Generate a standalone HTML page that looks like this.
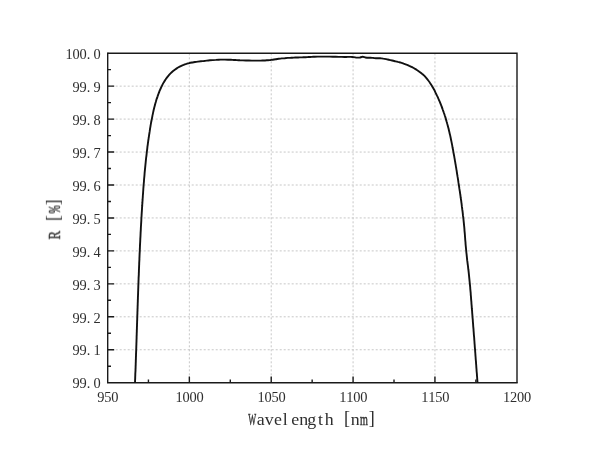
<!DOCTYPE html>
<html><head><meta charset="utf-8"><title>R vs Wavelength</title>
<style>
html,body{margin:0;padding:0;background:#fff;}
body{width:600px;height:459px;overflow:hidden;font-family:"Liberation Serif",serif;}
svg{display:block;}
</style></head><body>
<svg width="600" height="459" viewBox="0 0 600 459">
<rect width="600" height="459" fill="#fff"/>
<path d="M189.36 53.30 V382.80 M271.22 53.30 V382.80 M353.08 53.30 V382.80 M434.94 53.30 V382.80 M107.70 349.75 H517.00 M107.70 316.80 H517.00 M107.70 283.85 H517.00 M107.70 250.90 H517.00 M107.70 217.95 H517.00 M107.70 185.00 H517.00 M107.70 152.05 H517.00 M107.70 119.10 H517.00 M107.70 86.15 H517.00" stroke="#c4c4c4" stroke-width="0.95" stroke-dasharray="2 2" fill="none"/>
<path d="M148.43 382.80 v-3.20 M189.36 382.80 v-6.30 M230.29 382.80 v-3.20 M271.22 382.80 v-6.30 M312.15 382.80 v-3.20 M353.08 382.80 v-6.30 M394.01 382.80 v-3.20 M434.94 382.80 v-6.30 M475.87 382.80 v-3.20 M107.70 366.23 h3.30 M107.70 349.75 h6.50 M107.70 333.27 h3.30 M107.70 316.80 h6.50 M107.70 300.32 h3.30 M107.70 283.85 h6.50 M107.70 267.38 h3.30 M107.70 250.90 h6.50 M107.70 234.42 h3.30 M107.70 217.95 h6.50 M107.70 201.48 h3.30 M107.70 185.00 h6.50 M107.70 168.52 h3.30 M107.70 152.05 h6.50 M107.70 135.58 h3.30 M107.70 119.10 h6.50 M107.70 102.63 h3.30 M107.70 86.15 h6.50 M107.70 69.67 h3.30" stroke="#1a1a1a" stroke-width="1.4" fill="none"/>
<path d="M107.70 53.30 H517.00 V382.80" stroke="#1a1a1a" stroke-width="1.4" fill="none"/>
<path d="M107.70 53.30 V382.80 H517.00" stroke="#1a1a1a" stroke-width="1.4" fill="none" stroke-linecap="square"/>
<path d="M135.00 382.80C135.0 382.3 135.1 380.8 135.1 379.8C135.2 378.8 135.2 377.8 135.2 376.8C135.3 375.8 135.3 374.8 135.3 373.8C135.4 372.8 135.4 371.8 135.5 370.8C135.5 369.8 135.5 368.8 135.6 367.8C135.6 366.8 135.6 365.8 135.7 364.8C135.7 363.8 135.7 362.8 135.8 361.8C135.8 360.8 135.8 359.8 135.9 358.8C135.9 357.8 135.9 356.8 136.0 355.8C136.0 354.8 136.0 353.9 136.1 352.9C136.1 351.9 136.2 350.9 136.2 349.9C136.2 348.9 136.3 347.9 136.3 346.9C136.3 345.9 136.4 344.9 136.4 343.9C136.4 342.9 136.5 341.9 136.5 340.9C136.5 339.9 136.6 338.9 136.6 337.9C136.6 336.9 136.6 335.9 136.7 334.9C136.7 333.9 136.7 332.9 136.8 331.9C136.8 330.9 136.8 329.9 136.9 328.9C136.9 327.9 136.9 326.9 137.0 325.9C137.0 324.9 137.0 323.9 137.1 322.9C137.1 321.9 137.1 320.9 137.2 319.9C137.2 318.9 137.2 317.9 137.3 316.9C137.3 315.9 137.3 314.9 137.4 313.9C137.4 312.9 137.4 311.9 137.5 310.9C137.5 309.9 137.5 308.9 137.6 307.9C137.6 306.9 137.6 305.9 137.7 304.9C137.7 303.9 137.7 302.9 137.8 301.9C137.8 300.9 137.8 299.9 137.9 298.9C137.9 297.9 137.9 296.9 138.0 295.9C138.0 294.9 138.1 293.9 138.1 292.9C138.1 291.9 138.2 290.9 138.2 289.9C138.2 288.9 138.3 287.9 138.3 286.9C138.3 285.9 138.4 284.9 138.4 283.9C138.5 282.9 138.5 281.9 138.5 280.9C138.6 279.9 138.6 278.9 138.6 277.9C138.7 276.9 138.7 275.9 138.8 274.9C138.8 273.9 138.8 272.9 138.9 271.9C138.9 270.9 138.9 269.9 139.0 268.9C139.0 267.9 139.1 266.9 139.1 265.9C139.2 264.9 139.2 263.9 139.2 262.9C139.3 261.9 139.3 260.9 139.4 259.9C139.4 258.9 139.4 257.9 139.5 256.9C139.5 255.9 139.6 254.9 139.6 253.9C139.7 252.9 139.7 251.9 139.8 250.9C139.8 249.9 139.8 248.9 139.9 247.9C139.9 246.9 140.0 245.9 140.0 244.9C140.1 243.9 140.1 242.9 140.2 241.9C140.2 240.9 140.3 239.9 140.3 238.9C140.4 237.9 140.4 236.9 140.5 235.9C140.5 234.9 140.6 233.9 140.6 232.9C140.7 231.9 140.7 230.9 140.8 229.9C140.8 228.9 140.9 227.9 140.9 226.9C141.0 225.9 141.1 224.9 141.1 223.9C141.2 222.9 141.2 221.9 141.3 220.9C141.3 219.9 141.4 218.9 141.4 217.9C141.5 216.9 141.6 215.9 141.6 214.9C141.7 213.9 141.7 212.9 141.8 211.9C141.9 210.9 141.9 209.9 142.0 208.9C142.0 207.9 142.1 206.9 142.2 205.9C142.2 204.9 142.3 203.9 142.4 202.9C142.4 201.9 142.5 200.9 142.6 199.9C142.6 199.0 142.7 198.0 142.8 197.0C142.8 196.0 142.9 195.0 143.0 194.0C143.1 193.0 143.1 192.0 143.2 191.0C143.3 190.0 143.3 189.0 143.4 188.0C143.5 187.0 143.6 186.0 143.6 185.0C143.7 184.0 143.8 183.0 143.9 182.0C144.0 181.0 144.0 180.0 144.1 179.0C144.2 178.0 144.3 177.0 144.4 176.0C144.5 175.1 144.6 174.1 144.6 173.1C144.7 172.1 144.8 171.1 144.9 170.1C145.0 169.1 145.1 168.1 145.2 167.1C145.3 166.1 145.4 165.1 145.5 164.1C145.6 163.1 145.7 162.1 145.8 161.1C145.9 160.1 146.0 159.1 146.1 158.2C146.2 157.2 146.4 156.2 146.5 155.2C146.6 154.2 146.7 153.2 146.8 152.2C146.9 151.2 147.1 150.2 147.2 149.2C147.3 148.2 147.4 147.2 147.5 146.2C147.7 145.3 147.8 144.3 147.9 143.3C148.1 142.3 148.2 141.3 148.3 140.3C148.5 139.3 148.6 138.3 148.8 137.3C148.9 136.3 149.1 135.3 149.2 134.3C149.4 133.4 149.5 132.4 149.7 131.4C149.8 130.4 150.0 129.4 150.1 128.4C150.3 127.4 150.5 126.4 150.6 125.4C150.8 124.5 151.0 123.5 151.1 122.5C151.3 121.5 151.5 120.5 151.7 119.5C151.9 118.5 152.1 117.5 152.3 116.6C152.4 115.6 152.7 114.6 152.9 113.6C153.1 112.6 153.3 111.7 153.5 110.7C153.7 109.7 154.0 108.7 154.2 107.8C154.5 106.8 154.7 105.8 155.0 104.9C155.2 103.9 155.5 102.9 155.8 102.0C156.1 101.0 156.3 100.1 156.6 99.1C157.0 98.2 157.3 97.2 157.6 96.3C157.9 95.3 158.3 94.4 158.6 93.5C159.0 92.6 159.3 91.6 159.7 90.7C160.1 89.8 160.5 88.9 160.9 88.0C161.3 87.1 161.8 86.2 162.2 85.3C162.7 84.4 163.1 83.5 163.6 82.6C164.1 81.8 164.6 80.9 165.2 80.1C165.7 79.2 166.3 78.4 166.9 77.6C167.5 76.8 168.1 76.0 168.7 75.3C169.4 74.5 170.1 73.8 170.8 73.1C171.5 72.4 172.3 71.7 173.1 71.0C173.9 70.4 174.7 69.8 175.5 69.2C176.4 68.6 177.2 68.1 178.1 67.5C179.0 67.0 179.9 66.5 180.8 66.1C181.7 65.7 182.6 65.3 183.6 64.9C184.5 64.5 185.4 64.2 186.4 63.9C187.3 63.6 188.2 63.4 189.2 63.1C190.1 62.9 191.1 62.7 192.1 62.5C193.0 62.3 194.0 62.2 195.0 62.0C195.9 61.9 196.9 61.7 197.9 61.6C198.9 61.5 199.9 61.4 200.9 61.3C201.9 61.2 202.9 61.1 203.9 61.0C204.8 60.8 205.8 60.7 206.8 60.6C207.8 60.5 208.9 60.4 209.9 60.3C210.9 60.2 211.9 60.1 212.9 60.1C213.9 60.0 214.9 59.9 215.9 59.9C216.9 59.8 217.9 59.7 218.9 59.7C219.9 59.7 220.9 59.6 221.9 59.6C222.9 59.6 223.9 59.6 224.9 59.6C225.9 59.7 226.9 59.7 227.9 59.7C228.9 59.8 229.9 59.8 230.9 59.8C231.9 59.9 232.9 59.9 233.9 60.0C234.9 60.0 235.9 60.1 236.9 60.1C237.9 60.2 238.9 60.2 239.9 60.3C240.9 60.3 241.9 60.3 242.9 60.4C243.9 60.4 244.9 60.4 245.9 60.5C246.9 60.5 247.9 60.5 248.9 60.5C249.9 60.6 250.9 60.6 251.9 60.6C252.9 60.6 253.9 60.6 254.9 60.6C255.9 60.6 256.9 60.6 257.8 60.6C258.8 60.6 259.8 60.6 260.8 60.6C261.8 60.6 262.8 60.5 263.8 60.5C264.8 60.5 265.8 60.4 266.8 60.3C267.8 60.3 268.8 60.2 269.8 60.1C270.8 60.0 271.8 59.8 272.8 59.7C273.8 59.6 274.8 59.4 275.8 59.2C276.8 59.1 277.8 58.9 278.8 58.8C279.8 58.7 280.8 58.6 281.7 58.4C282.7 58.3 283.7 58.2 284.7 58.2C285.7 58.1 286.7 58.0 287.7 57.9C288.7 57.9 289.7 57.8 290.7 57.8C291.7 57.7 292.7 57.7 293.7 57.6C294.7 57.6 295.7 57.5 296.7 57.5C297.7 57.5 298.7 57.4 299.7 57.4C300.7 57.4 301.7 57.3 302.7 57.3C303.7 57.2 304.7 57.2 305.7 57.2C306.7 57.1 307.7 57.1 308.7 57.0C309.7 57.0 310.7 56.9 311.7 56.9C312.7 56.8 313.7 56.8 314.7 56.7C315.7 56.7 316.7 56.7 317.7 56.6C318.7 56.6 319.7 56.6 320.7 56.6C321.7 56.6 322.7 56.6 323.7 56.6C324.7 56.6 325.7 56.6 326.7 56.6C327.7 56.6 328.7 56.6 329.7 56.6C330.7 56.7 331.7 56.7 332.7 56.7C333.7 56.7 334.7 56.8 335.7 56.8C336.7 56.8 337.7 56.8 338.7 56.9C339.7 56.9 340.7 56.9 341.7 56.9C342.7 56.9 343.7 56.9 344.7 57.0C345.7 57.0 346.7 56.9 347.7 56.9C348.7 56.9 349.7 56.9 350.7 56.9C351.7 57.0 352.7 57.0 353.7 57.1C354.7 57.2 355.7 57.5 356.7 57.6C357.7 57.6 358.7 57.7 359.7 57.6C360.6 57.4 361.6 56.8 362.6 56.8C363.6 56.8 364.5 57.3 365.5 57.5C366.4 57.7 367.4 57.8 368.4 57.8C369.4 57.8 370.4 57.6 371.4 57.7C372.4 57.7 373.4 58.0 374.4 58.1C375.4 58.2 376.4 58.2 377.3 58.3C378.3 58.3 379.3 58.3 380.3 58.3C381.3 58.4 382.3 58.4 383.3 58.6C384.2 58.7 385.2 58.9 386.2 59.1C387.2 59.3 388.2 59.6 389.1 59.8C390.1 60.1 391.1 60.3 392.1 60.5C393.0 60.8 394.0 61.0 395.0 61.2C395.9 61.4 396.9 61.6 397.9 61.9C398.9 62.1 399.8 62.4 400.8 62.7C401.8 63.0 402.7 63.3 403.7 63.7C404.6 64.0 405.6 64.3 406.5 64.7C407.5 65.1 408.4 65.5 409.3 65.9C410.3 66.3 411.2 66.7 412.1 67.2C413.0 67.7 413.9 68.1 414.7 68.6C415.6 69.1 416.4 69.6 417.3 70.2C418.1 70.7 418.9 71.3 419.7 71.9C420.5 72.5 421.3 73.1 422.0 73.7C422.8 74.3 423.5 75.0 424.2 75.7C424.9 76.4 425.5 77.1 426.2 77.9C426.8 78.6 427.5 79.4 428.1 80.2C428.7 81.0 429.3 81.8 429.8 82.6C430.4 83.4 430.9 84.3 431.5 85.2C432.0 86.0 432.5 86.9 433.0 87.8C433.5 88.7 434.0 89.5 434.5 90.4C434.9 91.3 435.4 92.3 435.8 93.2C436.3 94.1 436.7 95.0 437.1 95.9C437.6 96.8 438.0 97.7 438.4 98.7C438.8 99.6 439.2 100.5 439.6 101.4C440.0 102.3 440.4 103.3 440.7 104.2C441.1 105.1 441.5 106.1 441.8 107.0C442.2 107.9 442.5 108.9 442.8 109.8C443.2 110.7 443.5 111.7 443.8 112.6C444.2 113.6 444.5 114.5 444.8 115.5C445.1 116.4 445.4 117.4 445.7 118.3C445.9 119.3 446.2 120.2 446.5 121.2C446.8 122.1 447.1 123.1 447.3 124.0C447.6 125.0 447.8 125.9 448.1 126.9C448.3 127.9 448.6 128.8 448.8 129.8C449.0 130.8 449.3 131.7 449.5 132.7C449.7 133.7 449.9 134.6 450.2 135.6C450.4 136.6 450.6 137.5 450.8 138.5C451.0 139.5 451.2 140.5 451.4 141.4C451.6 142.4 451.8 143.4 452.0 144.4C452.2 145.3 452.4 146.3 452.5 147.3C452.7 148.3 452.9 149.3 453.1 150.3C453.3 151.2 453.4 152.2 453.6 153.2C453.8 154.2 454.0 155.2 454.2 156.2C454.3 157.1 454.5 158.1 454.7 159.1C454.8 160.1 455.0 161.1 455.2 162.1C455.3 163.1 455.5 164.1 455.7 165.0C455.8 166.0 456.0 167.0 456.2 168.0C456.3 169.0 456.5 170.0 456.7 171.0C456.8 172.0 457.0 173.0 457.1 174.0C457.3 175.0 457.5 175.9 457.6 176.9C457.8 177.9 457.9 178.9 458.1 179.9C458.2 180.9 458.4 181.9 458.5 182.9C458.7 183.9 458.8 184.9 459.0 185.9C459.1 186.9 459.3 187.9 459.4 188.9C459.6 189.9 459.7 190.8 459.9 191.8C460.0 192.8 460.2 193.8 460.3 194.8C460.5 195.8 460.6 196.8 460.7 197.8C460.9 198.8 461.0 199.8 461.2 200.8C461.3 201.8 461.4 202.8 461.6 203.8C461.7 204.8 461.8 205.7 461.9 206.7C462.1 207.7 462.2 208.7 462.3 209.7C462.5 210.7 462.6 211.7 462.7 212.7C462.8 213.7 462.9 214.7 463.0 215.7C463.2 216.7 463.3 217.7 463.4 218.7C463.5 219.7 463.6 220.6 463.7 221.6C463.8 222.6 463.9 223.6 464.0 224.6C464.1 225.6 464.2 226.6 464.3 227.6C464.4 228.6 464.5 229.6 464.5 230.6C464.6 231.6 464.7 232.6 464.8 233.6C464.9 234.6 464.9 235.6 465.0 236.5C465.1 237.5 465.2 238.5 465.2 239.5C465.3 240.5 465.4 241.5 465.5 242.5C465.5 243.5 465.6 244.5 465.7 245.5C465.8 246.5 465.9 247.5 466.0 248.5C466.1 249.5 466.2 250.5 466.3 251.5C466.3 252.4 466.5 253.4 466.6 254.4C466.7 255.4 466.8 256.4 466.9 257.4C467.0 258.4 467.1 259.4 467.2 260.4C467.4 261.4 467.5 262.4 467.6 263.4C467.7 264.4 467.9 265.4 468.0 266.4C468.1 267.4 468.2 268.4 468.3 269.3C468.5 270.3 468.6 271.3 468.7 272.3C468.8 273.3 468.9 274.3 469.0 275.3C469.1 276.3 469.2 277.3 469.3 278.3C469.4 279.3 469.5 280.3 469.6 281.3C469.7 282.3 469.8 283.3 469.9 284.3C470.0 285.3 470.1 286.3 470.2 287.3C470.2 288.2 470.3 289.2 470.4 290.2C470.5 291.2 470.6 292.2 470.7 293.2C470.7 294.2 470.8 295.2 470.9 296.2C471.0 297.2 471.1 298.2 471.1 299.2C471.2 300.2 471.3 301.2 471.4 302.2C471.4 303.2 471.5 304.2 471.6 305.2C471.7 306.2 471.8 307.2 471.8 308.2C471.9 309.1 472.0 310.1 472.1 311.1C472.1 312.1 472.2 313.1 472.3 314.1C472.4 315.1 472.5 316.1 472.5 317.1C472.6 318.1 472.7 319.1 472.8 320.1C472.8 321.1 472.9 322.1 473.0 323.1C473.1 324.1 473.2 325.1 473.2 326.1C473.3 327.1 473.4 328.1 473.5 329.1C473.5 330.1 473.6 331.1 473.7 332.1C473.8 333.1 473.8 334.1 473.9 335.0C474.0 336.0 474.1 337.0 474.2 338.0C474.2 339.0 474.3 340.0 474.4 341.0C474.5 342.0 474.5 343.0 474.6 344.0C474.7 345.0 474.8 346.0 474.8 347.0C474.9 348.0 475.0 349.0 475.1 350.0C475.1 351.0 475.2 352.0 475.3 353.0C475.4 354.0 475.4 355.0 475.5 356.0C475.6 357.0 475.7 358.0 475.7 359.0C475.8 360.0 475.9 361.0 476.0 362.0C476.0 363.0 476.1 364.0 476.2 365.0C476.3 366.0 476.3 367.0 476.4 368.0C476.5 369.0 476.6 370.0 476.6 371.0C476.7 372.0 476.8 373.0 476.9 374.0C476.9 375.0 477.0 376.0 477.1 377.0C477.2 378.0 477.2 379.0 477.3 380.0C477.4 380.9 477.5 382.2 477.5 382.6" stroke="#111" stroke-width="1.9" fill="none" stroke-linejoin="round"/>
<g opacity="0.999" font-family="Liberation Serif, serif" font-size="14.00" fill="#2e2e2e" text-anchor="middle">
<text transform="translate(100.80 401.80) scale(1.030 1)">9</text><text transform="translate(107.80 401.80) scale(1.030 1)">5</text><text transform="translate(114.80 401.80) scale(1.030 1)">0</text>
<text transform="translate(179.16 401.80) scale(1.030 1)">1</text><text transform="translate(186.16 401.80) scale(1.030 1)">0</text><text transform="translate(193.16 401.80) scale(1.030 1)">0</text><text transform="translate(200.16 401.80) scale(1.030 1)">0</text>
<text transform="translate(261.02 401.80) scale(1.030 1)">1</text><text transform="translate(268.02 401.80) scale(1.030 1)">0</text><text transform="translate(275.02 401.80) scale(1.030 1)">5</text><text transform="translate(282.02 401.80) scale(1.030 1)">0</text>
<text transform="translate(342.88 401.80) scale(1.030 1)">1</text><text transform="translate(349.88 401.80) scale(1.030 1)">1</text><text transform="translate(356.88 401.80) scale(1.030 1)">0</text><text transform="translate(363.88 401.80) scale(1.030 1)">0</text>
<text transform="translate(424.74 401.80) scale(1.030 1)">1</text><text transform="translate(431.74 401.80) scale(1.030 1)">1</text><text transform="translate(438.74 401.80) scale(1.030 1)">5</text><text transform="translate(445.74 401.80) scale(1.030 1)">0</text>
<text transform="translate(506.60 401.80) scale(1.030 1)">1</text><text transform="translate(513.60 401.80) scale(1.030 1)">2</text><text transform="translate(520.60 401.80) scale(1.030 1)">0</text><text transform="translate(527.60 401.80) scale(1.030 1)">0</text>
<text transform="translate(76.00 388.40) scale(1.030 1)">9</text><text transform="translate(83.00 388.40) scale(1.030 1)">9</text><text transform="translate(88.50 388.40) scale(1.030 1)">.</text><text transform="translate(97.00 388.40) scale(1.030 1)">0</text>
<text transform="translate(76.00 355.45) scale(1.030 1)">9</text><text transform="translate(83.00 355.45) scale(1.030 1)">9</text><text transform="translate(88.50 355.45) scale(1.030 1)">.</text><text transform="translate(97.00 355.45) scale(1.030 1)">1</text>
<text transform="translate(76.00 322.50) scale(1.030 1)">9</text><text transform="translate(83.00 322.50) scale(1.030 1)">9</text><text transform="translate(88.50 322.50) scale(1.030 1)">.</text><text transform="translate(97.00 322.50) scale(1.030 1)">2</text>
<text transform="translate(76.00 289.55) scale(1.030 1)">9</text><text transform="translate(83.00 289.55) scale(1.030 1)">9</text><text transform="translate(88.50 289.55) scale(1.030 1)">.</text><text transform="translate(97.00 289.55) scale(1.030 1)">3</text>
<text transform="translate(76.00 256.60) scale(1.030 1)">9</text><text transform="translate(83.00 256.60) scale(1.030 1)">9</text><text transform="translate(88.50 256.60) scale(1.030 1)">.</text><text transform="translate(97.00 256.60) scale(1.030 1)">4</text>
<text transform="translate(76.00 223.65) scale(1.030 1)">9</text><text transform="translate(83.00 223.65) scale(1.030 1)">9</text><text transform="translate(88.50 223.65) scale(1.030 1)">.</text><text transform="translate(97.00 223.65) scale(1.030 1)">5</text>
<text transform="translate(76.00 190.70) scale(1.030 1)">9</text><text transform="translate(83.00 190.70) scale(1.030 1)">9</text><text transform="translate(88.50 190.70) scale(1.030 1)">.</text><text transform="translate(97.00 190.70) scale(1.030 1)">6</text>
<text transform="translate(76.00 157.75) scale(1.030 1)">9</text><text transform="translate(83.00 157.75) scale(1.030 1)">9</text><text transform="translate(88.50 157.75) scale(1.030 1)">.</text><text transform="translate(97.00 157.75) scale(1.030 1)">7</text>
<text transform="translate(76.00 124.80) scale(1.030 1)">9</text><text transform="translate(83.00 124.80) scale(1.030 1)">9</text><text transform="translate(88.50 124.80) scale(1.030 1)">.</text><text transform="translate(97.00 124.80) scale(1.030 1)">8</text>
<text transform="translate(76.00 91.85) scale(1.030 1)">9</text><text transform="translate(83.00 91.85) scale(1.030 1)">9</text><text transform="translate(88.50 91.85) scale(1.030 1)">.</text><text transform="translate(97.00 91.85) scale(1.030 1)">9</text>
<text transform="translate(69.00 58.90) scale(1.030 1)">1</text><text transform="translate(76.00 58.90) scale(1.030 1)">0</text><text transform="translate(83.00 58.90) scale(1.030 1)">0</text><text transform="translate(88.50 58.90) scale(1.030 1)">.</text><text transform="translate(97.00 58.90) scale(1.030 1)">0</text>
</g>
<g opacity="0.999" font-family="Liberation Serif, serif" font-size="17.20" fill="#2e2e2e" text-anchor="middle">
<text transform="translate(252.10 424.80) scale(0.487 1.000)" stroke="#2e2e2e" stroke-width="0.45">W</text><text transform="translate(260.70 424.80) scale(1.040 1.000)">a</text><text transform="translate(269.30 424.80) scale(1.040 1.000)">v</text><text transform="translate(277.90 424.80) scale(1.040 1.000)">e</text><text transform="translate(285.30 424.80) scale(1.040 1.000)">l</text><text transform="translate(295.10 424.80) scale(1.040 1.000)">e</text><text transform="translate(303.70 424.80) scale(1.040 1.000)">n</text><text transform="translate(311.70 424.80) scale(1.040 1.000)">g</text><text transform="translate(320.40 424.80) scale(1.040 1.000)">t</text><text transform="translate(329.10 424.80) scale(1.040 1.000)">h</text><text transform="translate(347.00 424.20) scale(1.050 1.070)">[</text><text transform="translate(355.30 424.80) scale(1.040 1.000)">n</text><text transform="translate(363.90 424.80) scale(0.590 1.000)" stroke="#2e2e2e" stroke-width="0.45">m</text><text transform="translate(371.80 424.20) scale(1.050 1.070)">]</text>
<g transform="translate(59.9 239.55) rotate(-90)"><text transform="translate(4.30 0.00) scale(0.723 1.000)" stroke="#2e2e2e" stroke-width="0.45">R</text><text transform="translate(21.50 -0.60) scale(1.050 1.070)">[</text><text transform="translate(30.10 0.00) scale(0.579 1.000)" stroke="#2e2e2e" stroke-width="0.45">&#37;</text><text transform="translate(37.30 -0.60) scale(1.050 1.070)">]</text></g>
</g>
</svg>
</body></html>
